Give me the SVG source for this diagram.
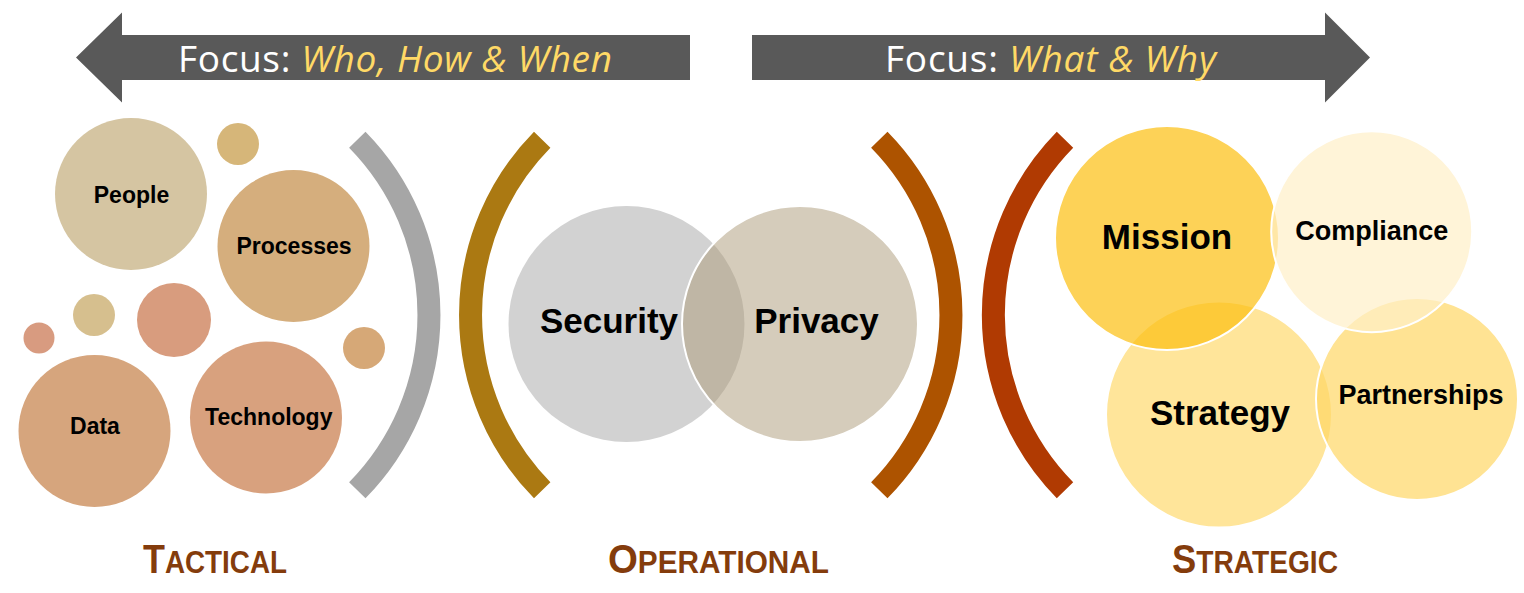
<svg xmlns="http://www.w3.org/2000/svg" width="1524" height="593" viewBox="0 0 1524 593">
<style>
.hdr{font-family:"Open Sans","Liberation Sans",sans-serif;font-size:37px;fill:#FFFFFF}
.hdr .em{font-style:italic;fill:#FFD966}
.lbl{font-family:"Liberation Sans",Arial,sans-serif;font-weight:bold;fill:#000000;text-anchor:middle}
.s23{font-size:23px}
.s27{font-size:27px}
.s35{font-size:35px}
.arc{fill:none;stroke-width:23;stroke-linecap:butt}
.lvl{font-family:"Liberation Sans",Arial,sans-serif;font-weight:bold;fill:#843C0C}
.lvl .big{font-size:40px}
.lvl .sm{font-size:31px}
.ring{stroke:#FFFFFF;stroke-width:2}
</style>
<rect width="1524" height="593" fill="#FFFFFF"/>

<g id="arrow-left">
<polygon points="76,57.5 122,12.5 122,35 690,35 690,80 122,80 122,102.5" fill="#595959"/>
<text class="hdr" x="178" y="72" textLength="434" lengthAdjust="spacing">Focus: <tspan class="em">Who, How &amp; When</tspan></text>
</g>
<g id="arrow-right">
<polygon points="752,35 1325,35 1325,12.5 1370,57.5 1325,102.5 1325,80 752,80" fill="#595959"/>
<text class="hdr" x="885" y="72" textLength="331" lengthAdjust="spacing">Focus: <tspan class="em">What &amp; Why</tspan></text>
</g>

<g id="brackets">
<path class="arc" stroke="#A6A6A6" d="M357.3,139.8 A250,250 0 0 1 357.3,490.2"/>
<path class="arc" stroke="#AB7912" d="M542.2,139.8 A250,250 0 0 0 542.2,490.2"/>
<path class="arc" stroke="#AD5300" d="M879.3,139.8 A250,250 0 0 1 879.3,490.2"/>
<path class="arc" stroke="#B03A02" d="M1065,139.8 A250,250 0 0 0 1065,490.2"/>
</g>

<g id="tactical">
<g id="dot1"><circle cx="238" cy="144" r="21" fill="#D6B679"/></g>
<g id="dot2"><circle cx="94" cy="315" r="21" fill="#D6BF8E"/></g>
<g id="dot3"><circle cx="39" cy="338" r="15.5" fill="#D89B80"/></g>
<g id="dot4"><circle cx="174" cy="320" r="37" fill="#D89C7E"/></g>
<g id="dot5"><circle cx="364" cy="348" r="21" fill="#D6A877"/></g>
<g id="people"><circle cx="131" cy="194" r="76" fill="#D5C5A2"/><text class="lbl s23" x="131.5" y="203">People</text></g>
<g id="processes"><circle cx="293.5" cy="246" r="76" fill="#D5AE7D"/><text class="lbl s23" x="294" y="253.5">Processes</text></g>
<g id="data"><circle cx="94.5" cy="431" r="76" fill="#D6A57D"/><text class="lbl s23" x="95" y="434">Data</text></g>
<g id="technology"><circle cx="266" cy="417.5" r="76" fill="#D8A17E"/><text class="lbl s23" x="268.8" y="424.5">Technology</text></g>
</g>

<g id="operational">
<g id="security"><circle cx="626.5" cy="324" r="118" fill="#D2D2D2"/></g>
<g id="privacy"><circle class="ring" cx="800" cy="324" r="118" fill="#AD9B7A" fill-opacity="0.51"/></g>
<text class="lbl s35" x="609" y="333">Security</text>
<text class="lbl s35" x="816.5" y="333">Privacy</text>
</g>

<g id="strategic">
<g id="strategy"><circle class="ring" cx="1219" cy="414.5" r="113" fill="#FFE59A"/></g>
<g id="partnerships"><circle class="ring" cx="1417" cy="399" r="101" fill="#FFD765" fill-opacity="0.7"/></g>
<g id="mission"><circle class="ring" cx="1167" cy="238" r="112" fill="#FCBF0F" fill-opacity="0.7"/></g>
<g id="compliance"><circle class="ring" cx="1371.7" cy="231.7" r="100.5" fill="#FFEFC7" fill-opacity="0.7"/></g>
<text class="lbl s35" x="1167" y="248.5">Mission</text>
<text class="lbl s27" x="1371.7" y="240">Compliance</text>
<text class="lbl s35" x="1220" y="425">Strategy</text>
<text class="lbl s27" x="1421" y="403.5">Partnerships</text>
</g>

<g id="levels">
<text class="lvl" x="143" y="573" textLength="144" lengthAdjust="spacingAndGlyphs"><tspan class="big">T</tspan><tspan class="sm">ACTICAL</tspan></text>
<text class="lvl" x="608" y="573" textLength="221" lengthAdjust="spacingAndGlyphs"><tspan class="big">O</tspan><tspan class="sm">PERATIONAL</tspan></text>
<text class="lvl" x="1172" y="573" textLength="166" lengthAdjust="spacingAndGlyphs"><tspan class="big">S</tspan><tspan class="sm">TRATEGIC</tspan></text>
</g>
</svg>
